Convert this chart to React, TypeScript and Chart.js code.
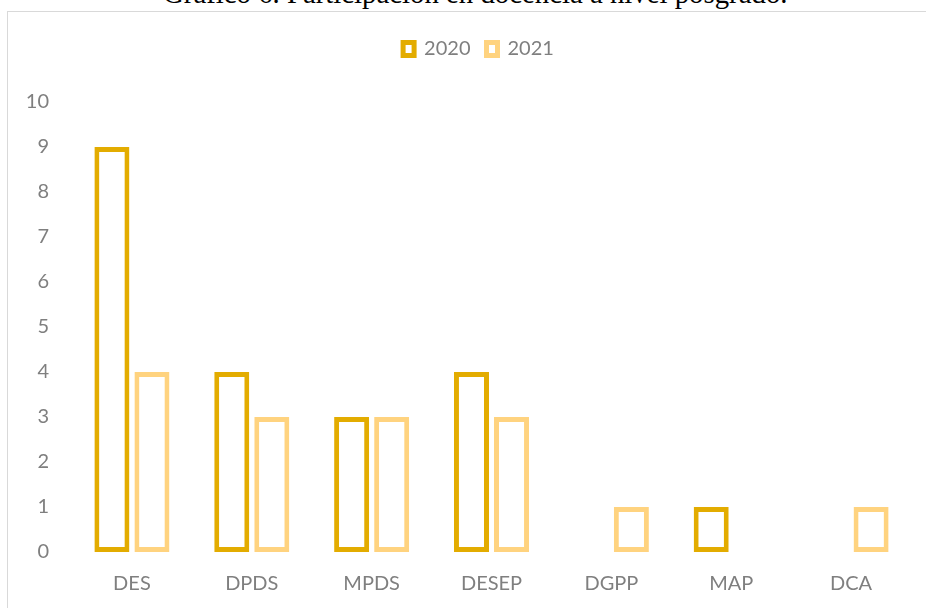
import React, { useEffect, useRef } from 'react';
import { Chart, registerables } from 'chart.js';

Chart.register(...registerables);

const titleText = 'Gráfico 6. Participación en docencia a nivel posgrado.';
const categories = ['DES', 'DPDS', 'MPDS', 'DESEP', 'DGPP', 'MAP', 'DCA'];
const seriesLabels = ['2020', '2021'];
const values2020: (number | null)[] = [9, 4, 3, 4, null, 1, null];
const values2021: (number | null)[] = [4, 3, 3, 3, 1, null, 1];
const yMin = 0;
const yMax = 10;
const yStep = 1;

const COLOR_2020 = '#E3AC00';
const COLOR_2021 = '#FFD37F';
const TEXT = '#7f7f7f';
const FONT = { family: 'Lato', size: 20 };

export default function App() {
  const ref = useRef<HTMLCanvasElement>(null);

  useEffect(() => {
    if (!ref.current) return;
    const legendSpacer = {
      id: 'legendSpacer',
      afterInit(chart: any) {
        const lg = chart.legend;
        if (!lg) return;
        const fit = lg.fit;
        lg.fit = function () {
          fit.call(this);
          this.height = 79;
        };
      },
      afterLayout(chart: any) {
        const lg = chart.legend;
        if (!lg) return;
        lg.left += 23;
        lg.right += 23;
      },
    };
    const chart = new Chart(ref.current, {
      type: 'bar',
      data: {
        labels: categories,
        datasets: [
          {
            label: seriesLabels[0],
            data: values2020,
            backgroundColor: '#ffffff',
            borderColor: COLOR_2020,
            borderWidth: 5,
            borderSkipped: false,
          },
          {
            label: seriesLabels[1],
            data: values2021,
            backgroundColor: '#ffffff',
            borderColor: COLOR_2021,
            borderWidth: 5,
            borderSkipped: false,
          },
        ],
      },
      options: {
        responsive: false,
        animation: false,
        devicePixelRatio: 1,
        layout: { padding: { top: 23, right: 15, bottom: 0, left: 0 } },
        datasets: { bar: { categoryPercentage: 0.668, barPercentage: 0.875 } },
        plugins: {
          legend: {
            position: 'top',
            labels: {
              boxWidth: 11,
              boxHeight: 13,
              padding: 16,
              color: TEXT,
              font: FONT,
            },
          },
          tooltip: { enabled: false },
          title: { display: false },
        },
        scales: {
          x: {
            grid: { display: false, drawTicks: false },
            border: { display: false },
            ticks: { color: TEXT, font: FONT, padding: 20 },
            afterFit(s: any) {
              s.height = 56;
            },
          },
          y: {
            min: yMin,
            max: yMax,
            grid: { display: false, drawTicks: false },
            border: { display: false },
            ticks: { stepSize: yStep, color: TEXT, font: FONT, padding: 23 },
            afterFit(s: any) {
              s.width = 72;
            },
          },
        },
      } as any,
      plugins: [legendSpacer as any],
    });
    return () => chart.destroy();
  }, []);

  return (
    <div
      style={{
        position: 'absolute',
        left: 0,
        top: 0,
        width: 926,
        height: 608,
        overflow: 'hidden',
        background: '#ffffff',
      }}
    >
      <div
        style={{
          position: 'absolute',
          left: 163,
          top: -21,
          fontFamily: '"Liberation Serif", "Times New Roman", serif',
          fontSize: 28.8,
          lineHeight: 1,
          whiteSpace: 'nowrap',
          color: '#000000',
        }}
      >
        {titleText}
      </div>
      <div
        style={{
          position: 'absolute',
          left: 7,
          top: 11,
          width: 940,
          height: 620,
          border: '1px solid #d9d9d9',
          boxSizing: 'border-box',
        }}
      />
      <canvas
        ref={ref}
        width={926}
        height={608}
        style={{ position: 'absolute', left: 0, top: 0, display: 'block' }}
      />
    </div>
  );
}
